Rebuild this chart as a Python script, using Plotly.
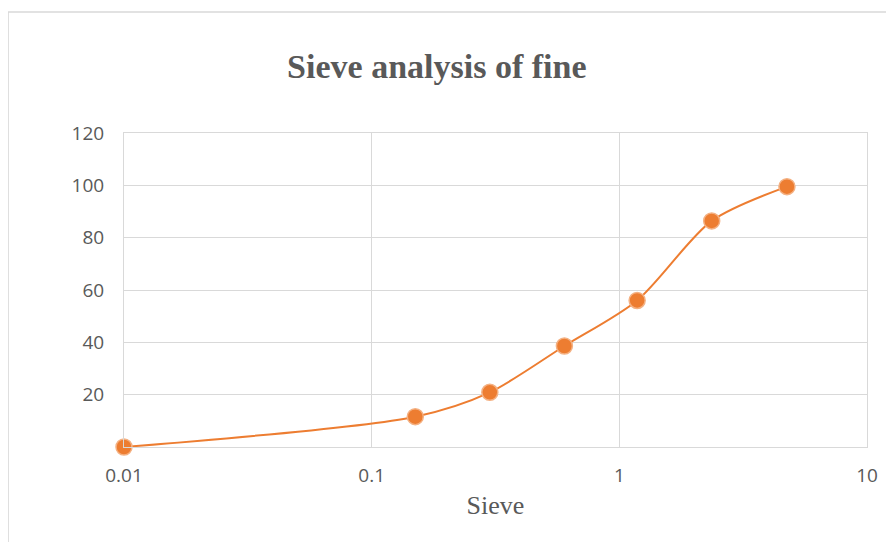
import plotly.graph_objects as go

sieve_mm = [0.01, 0.15, 0.30, 0.60, 1.18, 2.36, 4.75]
percent_passing = [0.0, 11.6, 20.9, 38.6, 56.0, 86.4, 99.5]

title_text = "Sieve analysis of fine"
x_title = "Sieve"
y_tickvals = [20, 40, 60, 80, 100, 120]
x_tickvals = [0.01, 0.1, 1, 10]
x_ticktext = ["0.01", "0.1", "1", "10"]

line_color = "#ED7D31"
grid_color = "#D9D9D9"
text_color = "#595959"

fig = go.Figure()
fig.add_trace(go.Scatter(
    x=sieve_mm, y=percent_passing,
    mode="lines+markers",
    line=dict(color=line_color, width=2, shape="spline", smoothing=0.8),
    marker=dict(size=16, color=line_color, line=dict(color="#F4B183", width=1.5)),
    cliponaxis=False,
    showlegend=False,
))

fig.update_layout(
    width=886, height=534,
    margin=dict(l=116, r=27, t=125, b=95),
    paper_bgcolor="white", plot_bgcolor="white",
    title=dict(text=f"<b>{title_text}</b>", x=0.484, xref="container", xanchor="center",
               y=0.891, yref="container", yanchor="middle",
               font=dict(family="Liberation Serif", size=34, color=text_color)),
    xaxis=dict(type="log", range=[-2, 1], tickvals=x_tickvals, ticktext=x_ticktext,
               showgrid=True, gridcolor=grid_color, gridwidth=1,
               showline=True, linecolor=grid_color, mirror=True, zeroline=False,
               ticks="", ticklabelstandoff=11,
               tickfont=dict(family="Open Sans", size=19, color=text_color),
               title=dict(text=x_title, standoff=9,
                          font=dict(family="Liberation Serif", size=26, color=text_color))),
    yaxis=dict(range=[0, 120], tickvals=y_tickvals,
               showgrid=True, gridcolor=grid_color, gridwidth=1,
               showline=True, linecolor=grid_color, mirror=True, zeroline=False,
               ticks="", ticklabelstandoff=15,
               tickfont=dict(family="Open Sans", size=19, color=text_color)),
    shapes=[dict(type="rect", xref="paper", yref="paper",
                 x0=-0.156, x1=1.2, y0=-0.5, y1=1.385,
                 line=dict(color="#D9D9D9", width=1.5), layer="below")],
)

fig.write_html("out.html")
